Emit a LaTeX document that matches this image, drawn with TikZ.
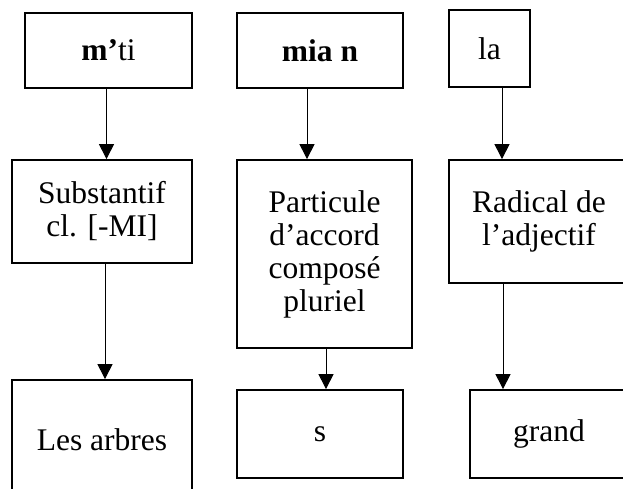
\documentclass[tikz,border=0pt]{standalone}
\usepackage{fontspec}
\setmainfont{Liberation Serif}
\usepackage{tikz}
\usetikzlibrary{arrows.meta, positioning}

\tikzset{
  box/.style={draw, line width=1.8pt, inner sep=0pt, align=center,
    font=\fontsize{31.5}{33}\selectfont},
  arr/.style={-{Triangle[width=15pt,length=15pt]}, line width=1pt}
}

\begin{document}
\begin{tikzpicture}[x=1pt, y=-1pt]
  \clip (0,0) rectangle (623,488);
  % top row: the forms
  \node[box, minimum width=167, minimum height=75] (mti) at (108.5,50.5) {\textbf{m’}ti};
  \node[box, minimum width=166, minimum height=75] (mian) at (320,50.5) {\textbf{mia n}};
  \node[box, minimum width=81, minimum height=77] (la) at (489.5,48.5) {la};
  % middle row: analysis
  \node[box, minimum width=180, minimum height=103] (subst) at (102,211.5) {Substantif\\cl. [-MI]};
  \node[box, minimum width=175, minimum height=188] (partic) at (324.5,254) {Particule\\d’accord\\composé\\pluriel};
  \node[box, minimum width=180, minimum height=123] (radical) at (539,221.5) {Radical de\\l’adjectif};
  % bottom row: the meaning
  \node[box, minimum width=180, minimum height=120] (arbres) at (102,440) {Les arbres};
  \node[box, minimum width=166, minimum height=88] (s) at (320,434) {s};
  \node[box, minimum width=158, minimum height=88] (grand) at (549,434) {grand};
  % arrows
  \draw[arr] ([xshift=-2]mti.south) -- ([xshift=-2]mti.south |- subst.north);
  \draw[arr] ([xshift=-13]mian.south) -- ([xshift=-13]mian.south |- partic.north);
  \draw[arr] ([xshift=12.5]la.south) -- ([xshift=12.5]la.south |- radical.north);
  \draw[arr] ([xshift=3]subst.south) -- ([xshift=3]subst.south |- arbres.north);
  \draw[arr] ([xshift=1.5]partic.south) -- ([xshift=1.5]partic.south |- s.north);
  \draw[arr] ([xshift=-36]radical.south) -- ([xshift=-36]radical.south |- grand.north);
\end{tikzpicture}
\end{document}
